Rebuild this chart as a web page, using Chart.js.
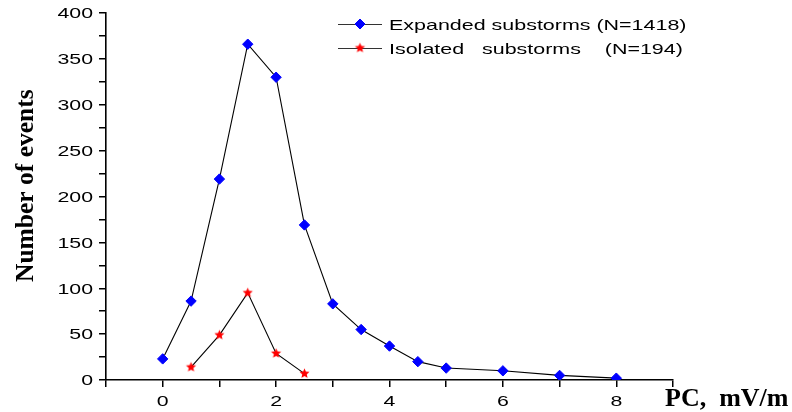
<!DOCTYPE html>
<html><head><meta charset="utf-8">
<script src="https://cdn.jsdelivr.net/npm/chart.js@4.4.1/dist/chart.umd.min.js"></script>
<style>html,body{margin:0;padding:0;background:#fff;}canvas{display:block;}</style>
</head><body>
<canvas id="c" width="792" height="412"></canvas>
<script>
const expandedX = [0, 0.5, 1, 1.5, 2, 2.5, 3, 3.5, 4, 4.5, 5, 6, 7, 8];
const expandedY = [23, 86, 219, 366, 330, 169, 83, 55, 37, 20, 13, 10, 5, 2];
const isolatedX = [0.5, 1, 1.5, 2, 2.5];
const isolatedY = [14, 49, 95, 29, 7];
const xTickLabels = [0, 2, 4, 6, 8];
const yTickLabels = [0, 50, 100, 150, 200, 250, 300, 350, 400];
const seriesNames = ['Expanded substorms (N=1418)', 'Isolated   substorms    (N=194)'];
const xTitle = 'PC,  mV/m';
const yTitle = 'Number of events';

const BLUE = '#0000ff', RED = '#ff0000';
const SANS = '"Liberation Sans", Arial, sans-serif';
const SERIF = '"Liberation Serif", "Times New Roman", serif';
const SX = 1.42;

function makeStar(r, color) {
  const s = Math.ceil(r * 2) + 2;
  const c = document.createElement('canvas');
  c.width = s; c.height = s;
  const g = c.getContext('2d');
  g.fillStyle = color;
  g.beginPath();
  for (let i = 0; i < 10; i++) {
    const rr = i % 2 ? r * 0.45 : r;
    const a = -Math.PI / 2 + i * Math.PI / 5;
    g.lineTo(s / 2 + rr * Math.cos(a), s / 2 + rr * Math.sin(a));
  }
  g.closePath();
  g.fill();
  return c;
}
const starImg = makeStar(5.3, RED);

function drawDiamond(ctx, x, y, r) {
  ctx.beginPath();
  ctx.moveTo(x - r, y); ctx.lineTo(x, y - r); ctx.lineTo(x + r, y); ctx.lineTo(x, y + r);
  ctx.closePath();
  ctx.fillStyle = BLUE; ctx.fill();
  ctx.lineWidth = 1; ctx.strokeStyle = BLUE; ctx.stroke();
}

const deco = {
  id: 'deco',
  afterDraw(chart) {
    const ctx = chart.ctx;
    const xs = chart.scales.x, ys = chart.scales.y;
    ctx.save();
    ctx.fillStyle = '#000';
    ctx.font = '15px ' + SANS;
    ctx.textBaseline = 'alphabetic';
    yTickLabels.forEach(v => {
      const py = ys.getPixelForValue(v);
      ctx.save(); ctx.translate(ys.right - 13, py + 5.3); ctx.scale(SX, 1);
      ctx.textAlign = 'right'; ctx.fillText(String(v), 0, 0); ctx.restore();
    });
    xTickLabels.forEach(v => {
      const px = xs.getPixelForValue(v);
      ctx.save(); ctx.translate(px, xs.top + 26); ctx.scale(SX, 1);
      ctx.textAlign = 'center'; ctx.fillText(String(v), 0, 0); ctx.restore();
    });
    // axis titles
    ctx.font = 'bold 26px ' + SERIF;
    ctx.textAlign = 'left';
    ctx.fillText(xTitle, xs.right - 8, xs.top + 26);
    ctx.save();
    ctx.font = 'bold 25.5px ' + SERIF;
    ctx.translate(33, 282); ctx.rotate(-Math.PI / 2);
    ctx.fillText(yTitle, 0, 0);
    ctx.restore();
    // legend
    const rows = [24, 48];
    rows.forEach((ry, i) => {
      ctx.beginPath(); ctx.moveTo(338, ry + 0.5); ctx.lineTo(382, ry + 0.5);
      ctx.lineWidth = 1; ctx.strokeStyle = '#333'; ctx.stroke();
      if (i === 0) drawDiamond(ctx, 360, ry, 5);
      else ctx.drawImage(starImg, 360 - starImg.width / 2, ry - starImg.height / 2);
      ctx.save(); ctx.translate(389, ry + 5.5); ctx.scale(1.43, 1);
      ctx.fillStyle = '#000'; ctx.font = '15px ' + SANS; ctx.textAlign = 'left';
      ctx.fillText(seriesNames[i], 0, 0); ctx.restore();
    });
    ctx.restore();
  }
};

const axisCommon = {
  ticks: { display: false },
  grid: { display: true, drawOnChartArea: false, drawTicks: true, tickLength: 7,
          color: '#000', tickColor: '#000', lineWidth: 1.5, tickWidth: 1.5 },
  border: { display: true, color: '#000', width: 1.6 }
};

new Chart(document.getElementById('c'), {
  type: 'line',
  data: {
    datasets: [
      {
        label: seriesNames[0],
        data: expandedX.map((x, i) => ({ x, y: expandedY[i] })),
        borderColor: '#000', borderWidth: 1.1, tension: 0, fill: false,
        pointStyle: 'rectRot', pointRadius: 5.2, pointBackgroundColor: BLUE,
        pointBorderColor: BLUE, pointBorderWidth: 1
      },
      {
        label: seriesNames[1],
        data: isolatedX.map((x, i) => ({ x, y: isolatedY[i] })),
        borderColor: '#000', borderWidth: 1.1, tension: 0, fill: false,
        pointStyle: starImg, pointRadius: 5
      }
    ]
  },
  options: {
    responsive: false,
    animation: false,
    layout: { padding: { left: 0, top: 13, right: 119, bottom: 0 } },
    plugins: { legend: { display: false }, tooltip: { enabled: false } },
    scales: {
      x: Object.assign({}, axisCommon, {
        type: 'linear', min: -1, max: 9,
        ticks: { display: false, stepSize: 1 },
        afterFit(s) { s.height = 32; }
      }),
      y: Object.assign({}, axisCommon, {
        type: 'linear', min: 0, max: 400,
        ticks: { display: false, stepSize: 25 },
        afterFit(s) { s.width = 106; }
      })
    }
  },
  plugins: [deco]
});
</script>
</body></html>
